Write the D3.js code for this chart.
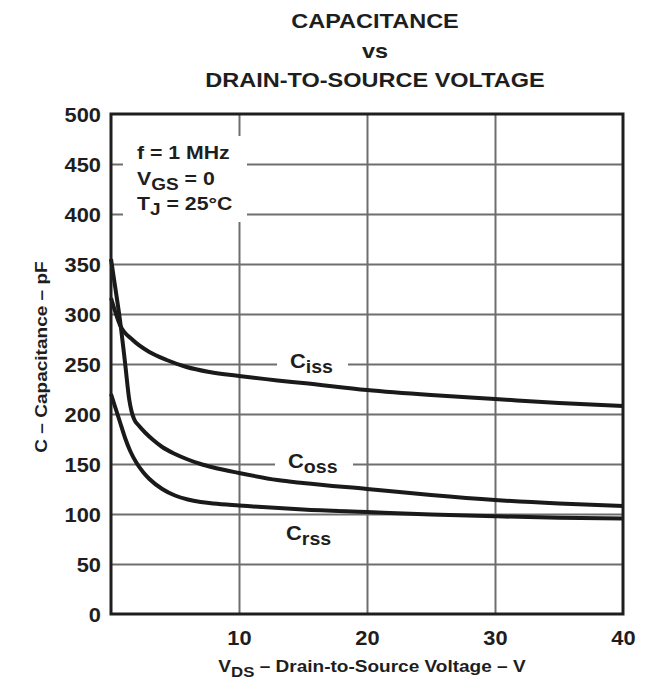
<!DOCTYPE html>
<html>
<head>
<meta charset="utf-8">
<script src="https://cdn.jsdelivr.net/npm/d3@7"></script>
<style>
  html, body { margin: 0; padding: 0; background: #fff; }
  svg { display: block; }
  text { font-family: "Liberation Sans", Arial, Helvetica, sans-serif; font-weight: bold; fill: #1e1e1e; }
</style>
</head>
<body>
<svg id="chart" width="645" height="687"></svg>
<script>
// ---- data ----
const cissV = [0, 0.7, 1.7, 3, 4.35, 5.9, 7.7, 10, 13, 15, 20, 25, 30, 35, 40];
const cissC = [316, 289, 274, 262, 254, 247, 242, 238, 233.5, 231, 224, 219, 215, 211, 208];

const cossV = [0, 0.35, 0.7, 1.1, 1.43, 1.6, 1.8, 2.2, 2.7, 3.3, 4, 5, 6, 7, 8, 10, 13, 15, 20, 25, 30, 35, 40];
const cossC = [355, 325, 294, 251, 214, 203, 195, 188, 181, 174, 167, 160, 154.5, 150, 146.5, 141, 134, 131, 125, 119, 114, 110.5, 108];

const crssV = [0, 0.35, 0.7, 1.1, 1.5, 2, 2.5, 3, 4, 5, 6, 7, 8, 10, 15, 20, 25, 30, 35, 40];
const crssC = [220, 206, 192, 176, 163, 151, 142, 135, 125, 118.5, 114.5, 112, 110.5, 108.5, 104.5, 102, 99.5, 97.7, 96.3, 95.5];

const xTicks = [10, 20, 30, 40];
const yTicks = [0, 50, 100, 150, 200, 250, 300, 350, 400, 450, 500];
const xGrid = [10, 20, 30];
const yGrid = [50, 100, 150, 200, 250, 300, 350, 400, 450];

const titleLines = ["CAPACITANCE", "vs", "DRAIN-TO-SOURCE VOLTAGE"];

// ---- layout ----
const SX = 1.12; // horizontal stretch of the reference lettering
const pL = 111, pR = 623, pT = 114, pB = 614;
const svg = d3.select("#chart");
const x = d3.scaleLinear().domain([0, 40]).range([pL, pR]);
const y = d3.scaleLinear().domain([0, 500]).range([pB, pT]);

// gridlines
const gridX = svg.append("g").attr("transform", `translate(0,${pB})`)
  .call(d3.axisBottom(x).tickValues(xGrid).tickSize(-(pB - pT)).tickFormat(""));
const gridY = svg.append("g").attr("transform", `translate(${pL},0)`)
  .call(d3.axisLeft(y).tickValues(yGrid).tickSize(-(pR - pL)).tickFormat(""));
[gridX, gridY].forEach(g => {
  g.select(".domain").remove();
  g.selectAll("line").attr("stroke", "#6e6e6e").attr("stroke-width", 2);
});

// white gaps behind labels
const gaps = [
  [123, 136, 247, 222],   // conditions box
  [277, 346, 348, 377],   // Ciss
  [275, 452, 353, 477]    // Coss
];
svg.selectAll("rect.gap").data(gaps).enter().append("rect")
  .attr("class", "gap")
  .attr("x", d => d[0]).attr("y", d => d[1])
  .attr("width", d => d[2] - d[0]).attr("height", d => d[3] - d[1])
  .attr("fill", "#fff");

// curves
const line = d3.line().x(d => x(d[0])).y(d => y(d[1])).curve(d3.curveMonotoneX);
[[cissV, cissC], [cossV, cossC], [crssV, crssC]].forEach(([vs, cs]) => {
  svg.append("path")
    .datum(vs.map((v, i) => [v, cs[i]]))
    .attr("d", line)
    .attr("fill", "none")
    .attr("stroke", "#1a1a1a")
    .attr("stroke-width", 4)
    .attr("stroke-linejoin", "round");
});

// frame
svg.append("rect")
  .attr("x", pL).attr("y", pT)
  .attr("width", pR - pL).attr("height", pB - pT)
  .attr("fill", "none").attr("stroke", "#1e1e1e").attr("stroke-width", 3);

// tick labels
const axX = svg.append("g").attr("transform", `translate(0,${pB})`)
  .call(d3.axisBottom(x).tickValues(xTicks).tickSize(0));
axX.select(".domain").remove();
axX.selectAll("text")
  .attr("y", 31).attr("dy", 0).attr("x", 0)
  .attr("transform", `scale(${SX},1)`)
  .style("font-size", "19.5px");

const axY = svg.append("g").attr("transform", `translate(${pL},0)`)
  .call(d3.axisLeft(y).tickValues(yTicks).tickSize(0));
axY.select(".domain").remove();
axY.selectAll("text")
  .attr("x", -10 / SX).attr("dy", "0.36em")
  .attr("transform", `scale(${SX},1)`)
  .style("font-size", "19.5px");
svg.selectAll(".tick text").attr("fill", "#1e1e1e");
svg.selectAll("g").attr("font-family", null).attr("font-size", null);

// helper for stretched text
function stext(px, py, size, anchor, parts, rotate) {
  const tr = rotate ? `translate(${px},${py}) rotate(-90) scale(${SX},1)` : `translate(${px},${py}) scale(${SX},1)`;
  const t = svg.append("text")
    .attr("transform", tr)
    .attr("text-anchor", anchor)
    .style("font-size", size + "px");
  let shift = 0;
  parts.forEach(p => {
    const sub = p.sub;
    const dy = sub ? 5 - shift : -shift;
    shift = sub ? 5 : 0;
    t.append("tspan").attr("dy", dy).style("font-size", sub ? (size - 2) + "px" : null).text(p.t);
  });
  return t;
}

// title
const titleY = [28, 57.5, 87];
titleLines.forEach((s, i) => stext(375, titleY[i], 21, "middle", [{ t: s }]));

// conditions
stext(137, 158.5, 19, "start", [{ t: "f = 1 MHz" }]);
stext(137, 184.5, 19, "start", [{ t: "V" }, { t: "GS", sub: true }, { t: " = 0" }]);
stext(137, 210, 19, "start", [{ t: "T" }, { t: "J", sub: true }, { t: " = 25°C" }]);

// curve labels
stext(290, 368, 19.5, "start", [{ t: "C" }, { t: "iss", sub: true }]);
stext(288, 468, 19.5, "start", [{ t: "C" }, { t: "oss", sub: true }]);
stext(286, 540, 19.5, "start", [{ t: "C" }, { t: "rss", sub: true }]);

// axis titles
stext(372, 672, 17, "middle", [{ t: "V" }, { t: "DS", sub: true }, { t: " – Drain-to-Source Voltage – V" }]);
stext(47, 357, 17, "middle", [{ t: "C – Capacitance – pF" }], true);
</script>
</body>
</html>
